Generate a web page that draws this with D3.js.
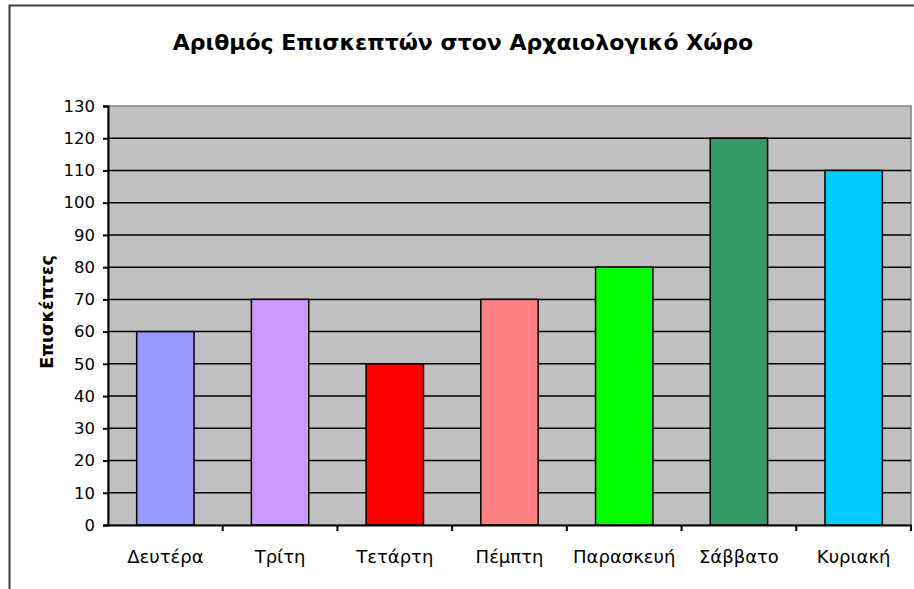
<!DOCTYPE html>
<html><head><meta charset="utf-8">
<script src="https://cdn.jsdelivr.net/npm/d3@7"></script>
<style>body{margin:0;background:#fff}svg{display:block}</style>
</head><body>
<script>
const categories = ["Δευτέρα","Τρίτη","Τετάρτη","Πέμπτη","Παρασκευή","Σάββατο","Κυριακή"];
const values = [60,70,50,70,80,120,110];
const colors = ["#9999FF","#CC99FF","#FF0000","#FF8080","#00FF00","#339966","#00CCFF"];
const yTicks = d3.range(0,131,10);
const title = "Αριθμός Επισκεπτών στον Αρχαιολογικό Χώρο";
const yLabel = "Επισκέπτες";

const W=914,H=589;
const svg=d3.select("body").append("svg").attr("width",W).attr("height",H);
svg.append("rect").attr("x",9.5).attr("y",5.5).attr("width",W).attr("height",H).attr("fill","#fff").attr("stroke","#404040").attr("stroke-width",2);

const L=108,R=911,T=106,B=525;
const x=d3.scaleBand().domain(categories).range([L,R]).paddingInner(0.5).paddingOuter(0.25);
const xb=d3.scaleBand().domain(categories).range([L,R]);
const y=d3.scaleLinear().domain([0,130]).range([B,T]);

svg.append("rect").attr("x",L).attr("y",T).attr("width",R-L).attr("height",B-T).attr("fill","#C0C0C0").attr("stroke","#808080").attr("stroke-width",1.5);

svg.append("g").selectAll("line").data(yTicks.filter(d=>d>0&&d<130)).join("line")
 .attr("x1",L).attr("x2",R).attr("y1",d=>y(d)).attr("y2",d=>y(d)).attr("stroke","#000").attr("stroke-width",1.5);

svg.append("g").selectAll("rect").data(values).join("rect")
 .attr("x",(d,i)=>x(categories[i])).attr("width",x.bandwidth())
 .attr("y",d=>y(d)).attr("height",d=>B-y(d))
 .attr("fill",(d,i)=>colors[i]).attr("stroke","#000").attr("stroke-width",1.5);

const ya=svg.append("g").attr("transform",`translate(${L},0)`)
 .call(d3.axisLeft(y).tickValues(yTicks).tickSize(5).tickPadding(8));
ya.select(".domain").attr("stroke","#000").attr("stroke-width",2);
ya.selectAll(".tick line").attr("stroke-width",2);
ya.selectAll("text").attr("font-family","DejaVu Sans").attr("font-size",16.5).attr("fill","#000");

const xa=svg.append("g").attr("transform",`translate(0,${B})`)
 .call(d3.axisBottom(xb).tickSize(0).tickPadding(25));
xa.select(".domain").attr("stroke","#000").attr("stroke-width",2);
xa.selectAll("text").attr("font-family","DejaVu Sans").attr("font-size",18).attr("fill","#000");
svg.append("g").selectAll("line").data(categories.slice(1).concat([null])).join("line")
 .attr("x1",(d,i)=>L+xb.step()*(i+1)).attr("x2",(d,i)=>L+xb.step()*(i+1))
 .attr("y1",B).attr("y2",B+6).attr("stroke","#000").attr("stroke-width",2);

svg.append("text").attr("x",463).attr("y",50).attr("text-anchor","middle")
 .attr("font-family","DejaVu Sans").attr("font-weight","bold").attr("font-size",22).text(title);

svg.append("text").attr("transform","translate(53,312) rotate(-90)").attr("text-anchor","middle")
 .attr("font-family","DejaVu Sans").attr("font-weight","bold").attr("font-size",17.5).text(yLabel);
</script>
</body></html>
